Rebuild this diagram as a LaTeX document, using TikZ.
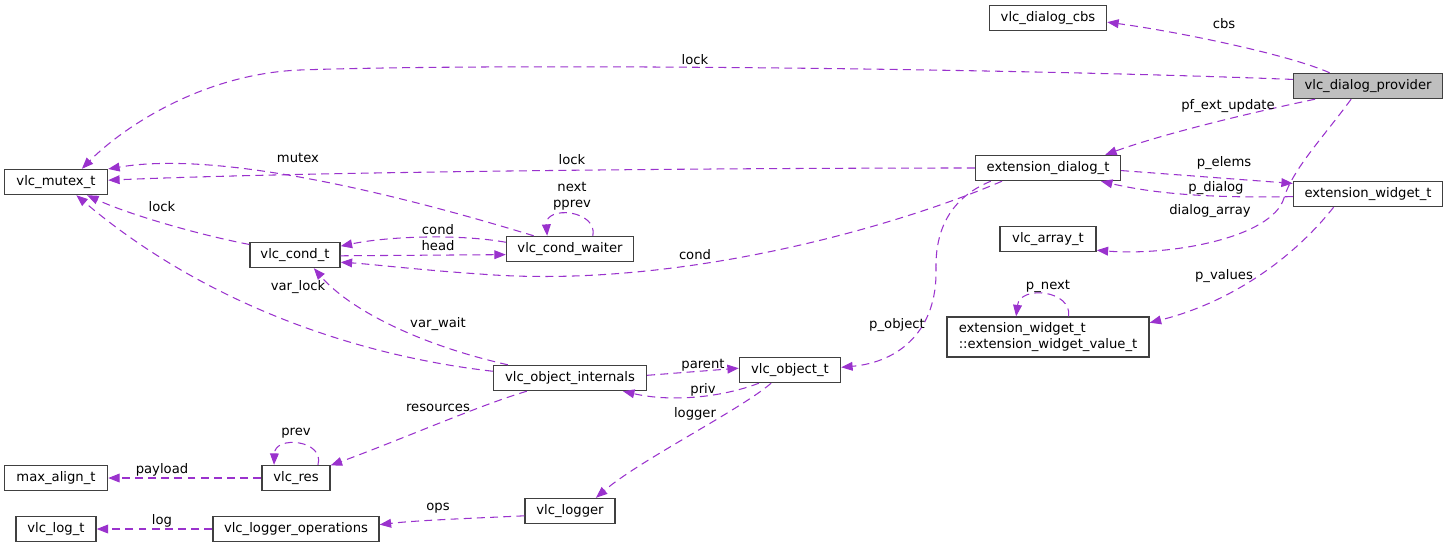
\documentclass[tikz,border=0pt]{standalone}
\usepackage{fontspec}
\setmainfont{DejaVu Sans}
\usetikzlibrary{arrows.meta}
\definecolor{memberpurple}{HTML}{9A32CD}
\definecolor{boxline}{HTML}{404040}
\definecolor{focusgray}{HTML}{BFBFBF}
\newcommand\TypeNode[6][]{% name, x, y, width (px), text
    \node[typebox, minimum width={#5*0.02cm}, #1] (#2) at (#3,#4) {#6};
}
\newcommand\MemberLabel[4]{% name, x, y, text
    \node[memberlabel] (#1) at (#2,#3) {#4};
}

\begin{document}
\begin{tikzpicture}[x=0.02cm, y=-0.02cm,
    every node/.style={font=\fontsize{7.5}{9}\selectfont},
    typebox/.style={draw=boxline, line width=0.8pt, fill=white, minimum height=0.5cm, inner sep=1pt},
    memberlabel/.style={inner sep=0pt},
    member/.style={draw=memberpurple, line width=0.6pt, dash pattern=on 4.5pt off 3pt,
        -{Triangle[length=6.5pt, width=5pt, fill=memberpurple]}}]
    \useasboundingbox (0,0) rectangle (1449,548);

    % types
    \TypeNode[fill=focusgray]{prov}{1368}{86}{149}{vlc\_dialog\_provider}
    \TypeNode{cbs}{1048}{18}{117}{vlc\_dialog\_cbs}
    \TypeNode{mutex}{56}{182}{103}{vlc\_mutex\_t}
    \TypeNode{edlg}{1048}{168}{145}{extension\_dialog\_t}
    \TypeNode{ewid}{1368}{194}{149}{extension\_widget\_t}
    \TypeNode{cond}{295}{255}{90}{vlc\_cond\_t}
    \TypeNode{waiter}{570}{249}{127}{vlc\_cond\_waiter}
    \TypeNode{arr}{1048}{239}{96}{vlc\_array\_t}
    \TypeNode[minimum height=0.8cm, align=left]{wval}{1048}{337}{202}{extension\_widget\_t\\::extension\_widget\_value\_t}
    \TypeNode{intern}{570}{378}{153}{vlc\_object\_internals}
    \TypeNode{obj}{790}{370}{101}{vlc\_object\_t}
    \TypeNode{maxal}{56}{478}{103}{max\_align\_t}
    \TypeNode{res}{296}{478}{68}{vlc\_res}
    \TypeNode{logger}{570}{511}{90}{vlc\_logger}
    \TypeNode{logt}{56}{529}{80}{vlc\_log\_t}
    \TypeNode{lops}{296}{529}{166}{vlc\_logger\_operations}

    % members of vlc_dialog_provider
    \draw[member] (prov.161) .. controls (1290,55) and (1180,32) .. (cbs.-4);
    \draw[member] (prov.175) .. controls (1000,68) and (500,63) .. (300,70) .. controls (200,74) and (120,130) .. (mutex.27);
    \draw[member] (prov.194) .. controls (1240,115) and (1160,135) .. (edlg.13);
    \draw[member] (prov.218) .. controls (1325,135) and (1292,170) .. (1284,198) .. controls (1272,238) and (1170,256) .. (arr.-13);
    \MemberLabel{l-cbs}{1224}{24}{cbs}
    \MemberLabel{l-plock}{695}{60}{lock}
    \MemberLabel{l-upd}{1228}{106}{pf\_ext\_update}
    \MemberLabel{l-arr}{1210}{211}{dialog\_array}

    % extension dialog / widget
    \draw[member] (edlg.-2) -- (ewid.172);
    \draw[member] (ewid.182) .. controls (1220,198) and (1160,195) .. (edlg.-14);
    \draw[member] (edlg.west) .. controls (700,168) and (300,172) .. (mutex.2);
    \draw[member] (edlg.196) .. controls (900,225) and (680,290) .. (480,274) .. controls (420,270) and (370,264) .. (cond.-9);
    \draw[member] (edlg.193) .. controls (950,198) and (935,230) .. (936,270) .. controls (937,330) and (900,362) .. (obj.3);
    \draw[member] (ewid.201) .. controls (1300,250) and (1240,300) .. (wval.8);
    \draw[member] (wval.45) .. controls (1072,290) and (1020,285) .. (wval.147);
    \MemberLabel{l-elems}{1224}{163}{p\_elems}
    \MemberLabel{l-dialog}{1216}{188}{p\_dialog}
    \MemberLabel{l-elock}{572}{160}{lock}
    \MemberLabel{l-econd}{695}{255}{cond}
    \MemberLabel{l-pobj}{897}{325}{p\_object}
    \MemberLabel{l-values}{1224}{276}{p\_values}
    \MemberLabel{l-pnext}{1048}{286}{p\_next}

    % locks and conditions
    \draw[member] (waiter.160) .. controls (400,195) and (220,150) .. (mutex.14);
    \draw[member] (cond.167) .. controls (200,235) and (130,215) .. (mutex.-23);
    \draw[member] (intern.175) .. controls (350,355) and (200,300) .. (mutex.-33);
    \draw[member] (waiter.174) .. controls (460,234) and (390,236) .. (cond.11);
    \draw[member] (cond.-1) -- (waiter.185);
    \draw[member] (waiter.30) .. controls (598,210) and (545,205) .. (waiter.150);
    \draw[member] (intern.168) .. controls (420,345) and (350,310) .. (cond.-35);
    \MemberLabel{l-mutex}{298}{158}{mutex}
    \MemberLabel{l-clock}{162}{207}{lock}
    \MemberLabel{l-varlock}{298}{287}{var\_lock}
    \MemberLabel{l-wcond}{438}{230}{cond}
    \MemberLabel{l-head}{438}{246}{head}
    \node[memberlabel, align=center] (l-next) at (572,196) {next\\pprev};
    \MemberLabel{l-varwait}{438}{324}{var\_wait}

    % objects, resources, logging
    \draw[member] (intern.2) -- (obj.178);
    \draw[member] (obj.203) .. controls (720,398) and (670,402) .. (intern.-14);
    \draw[member] (obj.215) .. controls (740,410) and (640,460) .. (logger.27);
    \draw[member] (intern.197) .. controls (480,405) and (400,440) .. (res.20);
    \draw[member] (res.31) .. controls (325,440) and (275,435) .. (res.149);
    \draw[member] (res.west) -- (maxal.east);
    \draw[member] (logger.186) .. controls (480,518) and (420,520) .. (lops.3);
    \draw[member] (lops.west) -- (logt.east);
    \MemberLabel{l-parent}{703}{365}{parent}
    \MemberLabel{l-priv}{703}{390}{priv}
    \MemberLabel{l-logger}{695}{414}{logger}
    \MemberLabel{l-res}{438}{408}{resources}
    \MemberLabel{l-prev}{296}{433}{prev}
    \MemberLabel{l-payload}{162}{470}{payload}
    \MemberLabel{l-ops}{438}{508}{ops}
    \MemberLabel{l-log}{162}{521}{log}
\end{tikzpicture}
\end{document}
